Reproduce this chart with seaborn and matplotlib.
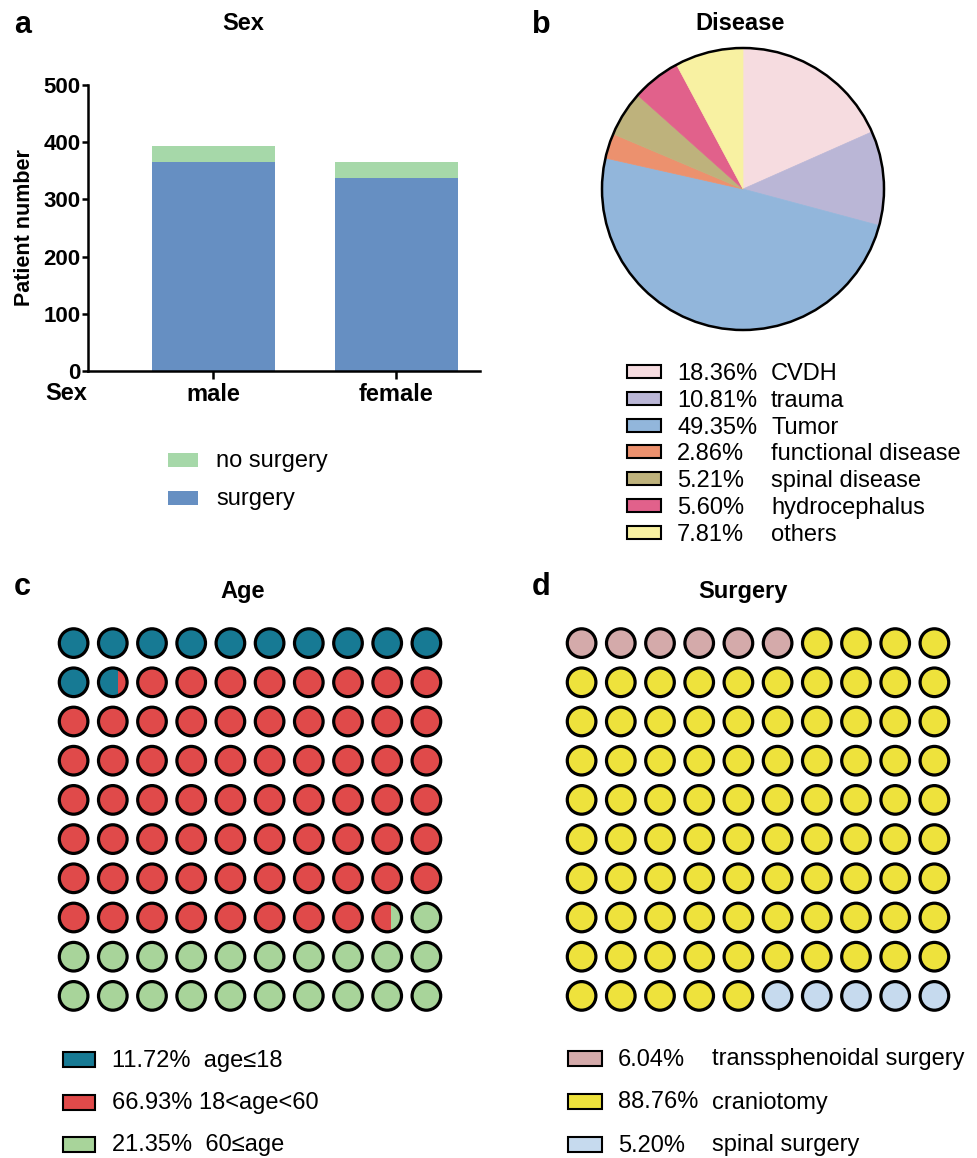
import numpy as np
import matplotlib
matplotlib.use('Agg')
import matplotlib.pyplot as plt
import seaborn as sns
import pandas as pd
from matplotlib.patches import Circle, Rectangle

# ---------------- data ----------------
sex_categories = ['male', 'female']
surgery_counts = [366, 338]
total_counts = [394, 366]
bar_legend_labels = ['no surgery', 'surgery']
bar_colors = ['#A6D8A9', '#668FC2']  # no surgery, surgery
y_ticks = [0, 100, 200, 300, 400, 500]

disease_labels = ['CVDH', 'trauma', 'Tumor', 'functional disease',
                  'spinal disease', 'hydrocephalus', 'others']
disease_pcts = [18.36, 10.81, 49.35, 2.86, 5.21, 5.60, 7.81]
disease_colors = ['#F6DCE0', '#BAB6D6', '#92B6DB', '#EC916E',
                  '#BEB27C', '#E1618B', '#F8F1A2']

age_labels = ['age≤18', '18<age<60', '60≤age']
age_pcts = [11.72, 66.93, 21.35]
age_legend_texts = ['11.72%  age≤18', '66.93% 18<age<60', '21.35%  60≤age']
age_colors = ['#177A94', '#E04A4A', '#A8D49A']

surgery_labels = ['transsphenoidal surgery', 'craniotomy', 'spinal surgery']
surgery_pcts = [6.04, 88.76, 5.20]
surgery_colors = ['#D4AAAA', '#EEE23C', '#C6DAEE']

# ---------------- setup ----------------
sns.set_style('white')
plt.rcParams['font.family'] = ['Liberation Sans', 'DejaVu Sans']
plt.rcParams['font.size'] = 17
plt.rcParams['text.color'] = 'black'
plt.rcParams['axes.labelcolor'] = 'black'
plt.rcParams['xtick.color'] = 'black'
plt.rcParams['ytick.color'] = 'black'

W, H = 977, 1158
fig = plt.figure(figsize=(W / 100, H / 100), dpi=100)


def fx(x):
    return x / W


def fy(y):
    return 1 - y / H


def ftext(x, y, s, **kw):
    kw.setdefault('va', 'baseline')
    kw.setdefault('fontsize', 17)
    kw.setdefault('color', 'black')
    fig.text(fx(x), fy(y), s, **kw)


def fbox(x0, x1, yc, h, color):
    fig.add_artist(Rectangle((fx(x0), fy(yc + h / 2)), (x1 - x0) / W, h / H,
                             facecolor=color, edgecolor='black', linewidth=1.5,
                             transform=fig.transFigure))


# ---------------- panel a ----------------
ax_a = fig.add_axes([fx(88), fy(371), 392 / W, 286 / H])
df = pd.DataFrame({'Sex': sex_categories, 'total': total_counts,
                   'surgery': surgery_counts})
sns.barplot(data=df, x='Sex', y='total', color=bar_colors[0], width=0.672,
            saturation=1, linewidth=0, errorbar=None, ax=ax_a)
sns.barplot(data=df, x='Sex', y='surgery', color=bar_colors[1], width=0.672,
            saturation=1, linewidth=0, errorbar=None, ax=ax_a)
ax_a.set_xlim(-0.683, 1.457)
ax_a.set_ylim(0, 500)
ax_a.set_yticks(y_ticks)
for s in ['top', 'right']:
    ax_a.spines[s].set_visible(False)
for s in ['left', 'bottom']:
    ax_a.spines[s].set_linewidth(1.8)
    ax_a.spines[s].set_color('black')
ax_a.tick_params(axis='y', length=4.5, width=1.8, pad=1, labelsize=16,
                 left=True, color='black', labelcolor='black')
ax_a.tick_params(axis='x', length=5.5, width=1.8, pad=3, labelsize=17,
                 bottom=True, color='black', labelcolor='black')
for lbl in ax_a.get_xticklabels() + ax_a.get_yticklabels():
    lbl.set_fontweight('bold')
ax_a.set_xlabel('')
ax_a.set_ylabel('Patient number', fontsize=15.5, fontweight='bold',
                color='black')
ax_a.yaxis.set_label_coords(-0.135, 0.5)
ftext(66, 400, 'Sex', ha='center', fontweight='bold')
ftext(14, 33, 'a', fontsize=22, fontweight='bold')
ftext(243, 30, 'Sex', ha='center', fontweight='bold')

# legend a
leg_a_rows = [460, 497.5]
for lab, col, yc in zip(bar_legend_labels, bar_colors, leg_a_rows):
    fig.add_artist(Rectangle((fx(168), fy(yc + 7)), 30 / W, 14 / H,
                             facecolor=col, edgecolor='none',
                             transform=fig.transFigure))
    ftext(216, yc + 7, lab)

# ---------------- panel b ----------------
cx, cy, r = 743, 189, 141
ax_b = fig.add_axes([fx(cx - r), fy(cy + r), 2 * r / W, 2 * r / H])
wedges, _ = ax_b.pie(disease_pcts, colors=disease_colors, startangle=90,
                     counterclock=False)
for w_, col in zip(wedges, disease_colors):
    w_.set_clip_on(False)
    w_.set_edgecolor(col)
    w_.set_linewidth(0.5)
ax_b.add_patch(Circle((0, 0), 1, fill=False, edgecolor='black',
                      linewidth=1.8, clip_on=False))
ax_b.set_xlim(-1, 1)
ax_b.set_ylim(-1, 1)
ax_b.set_aspect('equal')
ax_b.axis('off')
ftext(532, 33, 'b', fontsize=22, fontweight='bold')
ftext(740, 30, 'Disease', ha='center', fontweight='bold')
for i, (lab, p, col) in enumerate(zip(disease_labels, disease_pcts, disease_colors)):
    yc = 371.5 + 26.8 * i
    fbox(627, 661, yc, 13, col)
    ftext(677, yc + 8.5, f'{p:.2f}%')
    ftext(771, yc + 8.5, lab)


# ---------------- waffle helpers ----------------
def split_u(f):
    lo, hi = -1.0, 1.0
    for _ in range(60):
        mid = (lo + hi) / 2
        val = (mid * np.sqrt(1 - mid * mid) + np.arcsin(mid) + np.pi / 2) / np.pi
        if val < f:
            lo = mid
        else:
            hi = mid
    return (lo + hi) / 2


def waffle(ax, pcts, colors, partial=True):
    rad = 0.365
    if partial:
        bounds = np.concatenate([[0], np.cumsum(pcts)])
    else:
        counts = np.round(pcts).astype(int)
        bounds = np.concatenate([[0], np.cumsum(counts)])
    for k in range(100):
        row, col = divmod(k, 10)
        parts = []
        for c in range(len(pcts)):
            a = max(bounds[c], k)
            b = min(bounds[c + 1], k + 1)
            if b - a > 1e-9:
                parts.append((c, b - a))
        base = Circle((col, row), rad, facecolor=colors[parts[-1][0]],
                      edgecolor='none')
        ax.add_patch(base)
        if len(parts) > 1:
            f = parts[0][1]
            u = split_u(f)
            clip = Circle((col, row), rad, transform=ax.transData)
            rect = Rectangle((col - rad, row - rad), rad * (1 + u), 2 * rad,
                             facecolor=colors[parts[0][0]], edgecolor='none')
            ax.add_patch(rect)
            rect.set_clip_path(clip)
        ax.add_patch(Circle((col, row), rad, fill=False, edgecolor='black',
                            linewidth=2.3))
    ax.set_xlim(-0.5, 9.5)
    ax.set_ylim(9.5, -0.5)
    ax.axis('off')


S = 39.2
# ---------------- panel c ----------------
ax_c = fig.add_axes([fx(250 - 5 * S), fy(819.5 + 5 * S), 10 * S / W, 10 * S / H])
waffle(ax_c, age_pcts, age_colors, partial=True)
ftext(14, 595, 'c', fontsize=22, fontweight='bold')
ftext(243, 598, 'Age', ha='center', fontweight='bold')
for txt, col, yc in zip(age_legend_texts, age_colors, [1059, 1102, 1144]):
    fbox(63, 95, yc, 15, col)
    ftext(112, yc + 7.5, txt)

# ---------------- panel d ----------------
ax_d = fig.add_axes([fx(758 - 5 * S), fy(819.5 + 5 * S), 10 * S / W, 10 * S / H])
waffle(ax_d, surgery_pcts, surgery_colors, partial=False)
ftext(532, 595, 'd', fontsize=22, fontweight='bold')
ftext(743, 598, 'Surgery', ha='center', fontweight='bold')
for lab, p, col, yc in zip(surgery_labels, surgery_pcts, surgery_colors,
                           [1058, 1101, 1144]):
    fbox(568, 602, yc, 15, col)
    ftext(618, yc + 7.5, f'{p:.2f}%')
    ftext(712, yc + 7.5, lab)

fig.savefig('out.png', dpi=100)
